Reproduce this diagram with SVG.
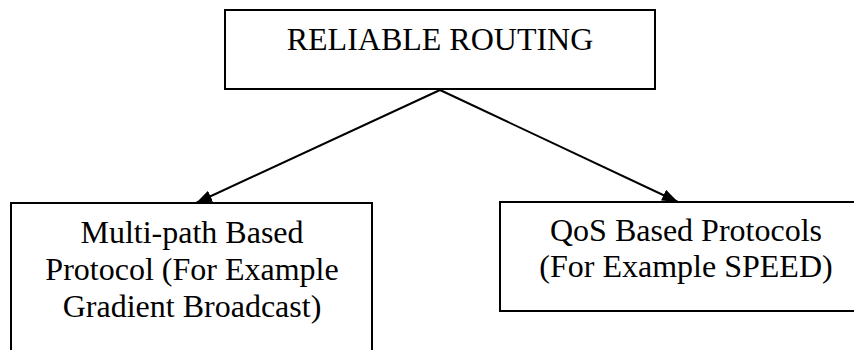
<svg xmlns="http://www.w3.org/2000/svg" width="854" height="350" viewBox="0 0 854 350">
  <style>
    .box { fill: #ffffff; stroke: #000000; stroke-width: 2; }
    .label { font-family: "Liberation Serif", "Times New Roman", serif; font-size: 32px; fill: #000000; text-anchor: middle; }
    .edge { fill: none; stroke: #000000; stroke-width: 2; }
  </style>
  <defs>
    <marker id="arrow" viewBox="0 0 16 12" refX="16" refY="6" markerWidth="16" markerHeight="12" markerUnits="userSpaceOnUse" orient="auto">
      <path d="M0,0 L16,6 L0,12 Z" fill="#000000"/>
    </marker>
  </defs>
  <rect width="854" height="350" fill="#ffffff"/>

  <g id="reliable-routing">
    <rect class="box" x="225" y="10" width="430" height="79"/>
    <text class="label" x="440" y="50">RELIABLE ROUTING</text>
  </g>

  <g id="multipath">
    <rect class="box" x="11" y="203" width="361" height="160"/>
    <text class="label" x="192" y="243">Multi-path Based</text>
    <text class="label" x="192" y="280">Protocol (For Example</text>
    <text class="label" x="192" y="317">Gradient Broadcast)</text>
  </g>

  <g id="qos">
    <rect class="box" x="500" y="202" width="370" height="109"/>
    <text class="label" x="686" y="241">QoS Based Protocols</text>
    <text class="label" x="686" y="277">(For Example SPEED)</text>
  </g>

  <g id="connectors">
    <path class="edge" d="M440,90 L196,203" marker-end="url(#arrow)"/>
    <path class="edge" d="M440,90 L678,202" marker-end="url(#arrow)"/>
  </g>
</svg>
